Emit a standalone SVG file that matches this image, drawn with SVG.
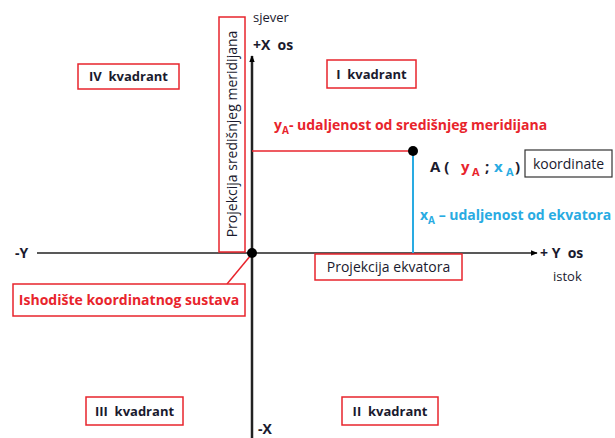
<svg xmlns="http://www.w3.org/2000/svg" width="615" height="438" viewBox="0 0 615 438">
<defs>
<marker id="arr" viewBox="0 0 10 10" refX="9" refY="5" markerWidth="7" markerHeight="7" orient="auto" markerUnits="userSpaceOnUse"><path d="M0,1 L10,5 L0,9 Z" fill="#000"/></marker>
</defs>
<style>
text{font-family:"Open Sans","Liberation Sans",sans-serif;fill:#1a1a2e;white-space:pre}
.b{font-weight:bold}
.rbox{fill:#fff;stroke:#e8242c;stroke-width:1.5}
.kbox{fill:#fff;stroke:#333;stroke-width:1.2}
.red{fill:#e8242c}
.blue{fill:#29abe2}
</style>
<rect width="615" height="438" fill="#fff"/>
<g id="connectors">
<line x1="37" y1="253" x2="537" y2="253" stroke="#222" stroke-width="1.5" marker-end="url(#arr)"/>
<line x1="252" y1="438" x2="252" y2="56" stroke="#222" stroke-width="2.5" marker-end="url(#arr)"/>
<line x1="252" y1="151" x2="413" y2="151" stroke="#e8242c" stroke-width="1.5"/>
<line x1="413" y1="151" x2="413" y2="253" stroke="#29abe2" stroke-width="2"/>
<line x1="227" y1="284" x2="251" y2="255" stroke="#e8242c" stroke-width="1.5"/>
</g>
<g id="origin"><circle cx="252" cy="253" r="5" fill="#000"/></g>
<g id="pointA"><circle cx="413" cy="151" r="5" fill="#000"/></g>
<g id="meridijan">
<rect class="rbox" x="219" y="17" width="26" height="235"/>
<text x="0" y="0" font-size="14" text-anchor="middle" transform="translate(237,134) rotate(-90)">Projekcija središnjeg meridijana</text>
</g>
<g id="sjever"><text x="253" y="22" font-size="13">sjever</text></g>
<g id="xplus"><text class="b" x="253" y="50" font-size="14">+X  os</text></g>
<g id="yA-label"><text class="b red" x="274" y="130" font-size="14">y<tspan font-size="10" dy="4">A</tspan><tspan dy="-4">- udaljenost od središnjeg meridijana</tspan></text></g>
<g id="A-label"><text class="b" x="430" y="172" font-size="15">A (<tspan class="red" x="461">y</tspan><tspan class="red" font-size="11" x="472" dy="4">A</tspan><tspan x="485" dy="-4">;</tspan><tspan class="blue" x="494">x</tspan><tspan class="blue" font-size="11" x="506" dy="4">A</tspan><tspan x="515" dy="-4">)</tspan></text></g>
<g id="koordinate">
<rect class="kbox" x="525" y="150" width="87" height="27"/>
<text x="568.5" y="169" font-size="14" text-anchor="middle">koordinate</text>
</g>
<g id="xA-label"><text class="b blue" x="420" y="220" font-size="14">x<tspan font-size="10" dy="4">A</tspan><tspan dy="-4"> – udaljenost od ekvatora</tspan></text></g>
<g id="yplus"><text class="b" x="540" y="258" font-size="14">+ Y  os</text></g>
<g id="istok"><text x="553" y="281" font-size="13">istok</text></g>
<g id="yminus"><text class="b" x="15" y="258" font-size="14">-Y</text></g>
<g id="xminus"><text class="b" x="258" y="434" font-size="14">-X</text></g>
<g id="ekvator">
<rect class="rbox" x="315" y="254" width="147" height="26"/>
<text x="388.5" y="272" font-size="14" text-anchor="middle">Projekcija ekvatora</text>
</g>
<g id="ishodiste">
<rect class="rbox" x="13" y="284" width="232" height="32"/>
<text class="b red" x="129" y="305" font-size="14" text-anchor="middle">Ishodište koordinatnog sustava</text>
</g>
<g id="kv4"><rect class="rbox" x="78" y="64" width="101" height="25"/><text class="b" x="128.5" y="81" font-size="13" text-anchor="middle">IV  kvadrant</text></g>
<g id="kv1"><rect class="rbox" x="327" y="60" width="89" height="28"/><text class="b" x="371.5" y="79" font-size="13" text-anchor="middle">I  kvadrant</text></g>
<g id="kv3"><rect class="rbox" x="86" y="397" width="97" height="28"/><text class="b" x="134.5" y="416" font-size="13" text-anchor="middle">III  kvadrant</text></g>
<g id="kv2"><rect class="rbox" x="342" y="397" width="96" height="28"/><text class="b" x="390" y="416" font-size="13" text-anchor="middle">II  kvadrant</text></g>
</svg>
